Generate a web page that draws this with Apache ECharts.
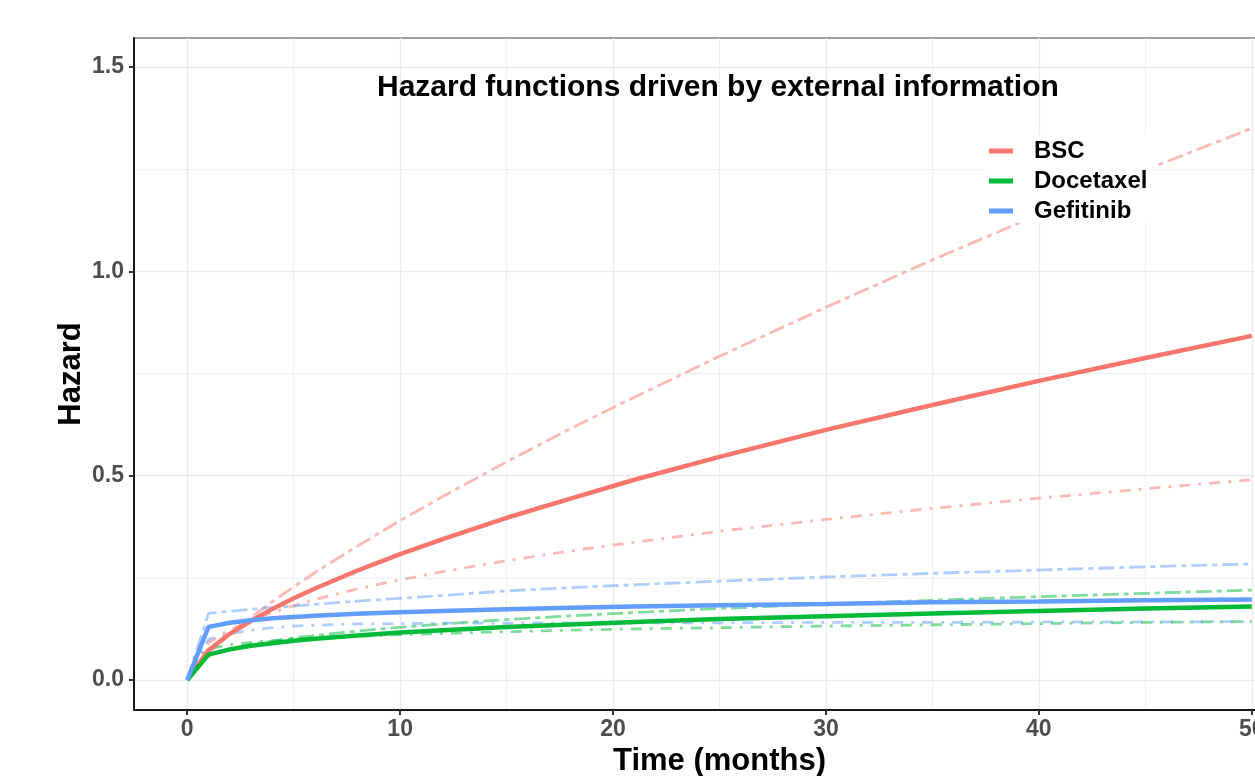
<!DOCTYPE html>
<html>
<head>
<meta charset="utf-8">
<title>Hazard functions driven by external information</title>
<script src="https://cdn.jsdelivr.net/npm/echarts@6/dist/echarts.min.js"></script>
<style>
  html, body { margin: 0; padding: 0; background: #fff; }
  #chart { width: 1255px; height: 776px; }
</style>
</head>
<body>
<div id="chart"></div>
<script>
// Time grid (months) at which the hazards are tabulated
const months = [0, 1, 2, 3, 4, 5, 6, 8, 10, 12, 15, 18, 21, 25, 30, 35, 40, 45, 50];

// BSC: central estimate and the two external-information scenarios
const bscMain  = [0, 0.073, 0.113, 0.145, 0.174, 0.200, 0.224, 0.268, 0.308, 0.345, 0.397, 0.444, 0.490, 0.546, 0.612, 0.673, 0.732, 0.788, 0.842];
const bscUpper = [0, 0.066, 0.112, 0.154, 0.192, 0.228, 0.263, 0.328, 0.390, 0.449, 0.534, 0.615, 0.692, 0.792, 0.912, 1.028, 1.139, 1.248, 1.350];
const bscLower = [0, 0.091, 0.123, 0.146, 0.165, 0.182, 0.197, 0.223, 0.245, 0.265, 0.292, 0.316, 0.337, 0.364, 0.393, 0.420, 0.445, 0.468, 0.490];

// Docetaxel
const docMain  = [0, 0.062, 0.075, 0.084, 0.090, 0.096, 0.101, 0.109, 0.116, 0.122, 0.130, 0.136, 0.142, 0.149, 0.156, 0.163, 0.169, 0.175, 0.180];
const docUpper = [0, 0.060, 0.076, 0.087, 0.095, 0.103, 0.109, 0.120, 0.129, 0.137, 0.148, 0.157, 0.165, 0.175, 0.186, 0.195, 0.204, 0.212, 0.220];
const docLower = [0, 0.077, 0.086, 0.092, 0.096, 0.100, 0.103, 0.107, 0.111, 0.114, 0.118, 0.122, 0.125, 0.128, 0.132, 0.135, 0.138, 0.141, 0.143];

// Gefitinib
const gefMain  = [0, 0.130, 0.140, 0.146, 0.151, 0.154, 0.157, 0.162, 0.166, 0.169, 0.173, 0.177, 0.180, 0.183, 0.186, 0.190, 0.192, 0.195, 0.197];
const gefUpper = [0, 0.163, 0.168, 0.173, 0.177, 0.181, 0.185, 0.193, 0.200, 0.207, 0.218, 0.226, 0.233, 0.242, 0.252, 0.261, 0.269, 0.277, 0.284];
const gefLower = [0, 0.100, 0.113, 0.122, 0.128, 0.132, 0.134, 0.137, 0.138, 0.139, 0.139, 0.140, 0.140, 0.140, 0.141, 0.141, 0.142, 0.142, 0.143];

const treatments = ['BSC', 'Docetaxel', 'Gefitinib'];

// Axis ticks and grid lines
const xTicks = [0, 10, 20, 30, 40, 50];
const xMinor = [5, 15, 25, 35, 45];
const yTicks = [0, 0.5, 1.0, 1.5];
const yMinor = [0.25, 0.75, 1.25];

const COLORS = { BSC: '#F8766D', Docetaxel: '#00BA38', Gefitinib: '#619CFF' };
const FONT = "'Liberation Sans', Arial, Helvetica, sans-serif";
const TWODASH = [16, 5, 5, 5];
const DOTDASH = [3, 8, 11, 8];

function pairs(vals) {
  return months.map((m, i) => [m, vals[i]]);
}

function lineSeries(name, vals, color, width, dash, opacity, z) {
  return {
    name: name,
    type: 'line',
    data: pairs(vals),
    showSymbol: false,
    symbol: 'none',
    smooth: false,
    silent: true,
    z: z,
    color: color,
    lineStyle: { color: color, width: width, type: dash || 'solid', opacity: opacity, cap: 'butt' },
    emphasis: { disabled: true }
  };
}

const scenario = {
  BSC: [bscMain, bscUpper, bscLower],
  Docetaxel: [docMain, docUpper, docLower],
  Gefitinib: [gefMain, gefUpper, gefLower]
};

const series = [];
treatments.forEach(t => {
  const [, up, lo] = scenario[t];
  series.push(lineSeries(t + ' upper', up, COLORS[t], 2.8, TWODASH, 0.5, 3));
  series.push(lineSeries(t + ' lower', lo, COLORS[t], 2.8, DOTDASH, 0.5, 3));
});
treatments.forEach(t => {
  series.push(lineSeries(t, scenario[t][0], COLORS[t], 4.5, null, 1, 5));
});

const X_MIN = -2.5, X_MAX = 52.5;
const Y_MIN = -0.0734, Y_MAX = 1.571;

function gridAxis(min, max, values, width) {
  return {
    type: 'value', min: min, max: max, gridIndex: 0,
    axisLine: { show: false },
    axisTick: { show: false, customValues: values },
    axisLabel: { show: false },
    splitLine: { show: true, lineStyle: { color: '#EBEBEB', width: width } }
  };
}

const option = {
  animation: false,
  backgroundColor: '#ffffff',
  title: {
    text: 'Hazard functions driven by external information',
    left: 377,
    top: 73,
    padding: 0,
    textStyle: { fontFamily: FONT, fontSize: 30, fontWeight: 'bold', color: '#000000' }
  },
  legend: {
    data: treatments,
    orient: 'vertical',
    left: 985,
    top: 135,
    padding: [4, 6, 0, 4],
    itemGap: 6,
    itemWidth: 24,
    itemHeight: 5,
    icon: 'rect',
    selectedMode: false,
    backgroundColor: '#ffffff',
    z: 10,
    textStyle: { fontFamily: FONT, fontSize: 24, fontWeight: 'bold', color: '#000000', lineHeight: 24, padding: [0, 0, 0, 16] }
  },
  grid: {
    left: 134, top: 38, width: 1171, height: 672,
    show: true, borderColor: '#808080', borderWidth: 1.5, backgroundColor: 'transparent',
    containLabel: false, outerBoundsMode: 'none'
  },
  xAxis: [
    {
      type: 'value', min: X_MIN, max: X_MAX, gridIndex: 0, position: 'bottom',
      axisLine: { show: true, onZero: false, lineStyle: { color: '#1a1a1a', width: 2 } },
      axisTick: { show: true, length: 5, customValues: xTicks, lineStyle: { color: '#333333', width: 2 } },
      axisLabel: {
        customValues: xTicks, margin: 8,
        fontFamily: FONT, fontSize: 23, fontWeight: 'bold', color: '#4D4D4D',
        formatter: v => String(v)
      },
      splitLine: { show: false },
      name: 'Time (months)', nameLocation: 'middle', nameGap: 36, nameMoveOverlap: false,
      nameTextStyle: { fontFamily: FONT, fontSize: 31, fontWeight: 'bold', color: '#000000' }
    },
    gridAxis(X_MIN, X_MAX, xTicks, 1.4),
    gridAxis(X_MIN, X_MAX, xMinor, 0.8)
  ],
  yAxis: [
    {
      type: 'value', min: Y_MIN, max: Y_MAX, gridIndex: 0, position: 'left',
      axisLine: { show: true, onZero: false, lineStyle: { color: '#1a1a1a', width: 2 } },
      axisTick: { show: true, length: 5, customValues: yTicks, lineStyle: { color: '#333333', width: 2 } },
      axisLabel: {
        customValues: yTicks, margin: 10,
        fontFamily: FONT, fontSize: 23, fontWeight: 'bold', color: '#4D4D4D',
        formatter: v => Number(v).toFixed(1)
      },
      splitLine: { show: false },
      name: 'Hazard', nameLocation: 'middle', nameGap: 47, nameRotate: 90, nameMoveOverlap: false,
      nameTextStyle: { fontFamily: FONT, fontSize: 31, fontWeight: 'bold', color: '#000000' }
    },
    gridAxis(Y_MIN, Y_MAX, yTicks, 1.4),
    gridAxis(Y_MIN, Y_MAX, yMinor, 0.8)
  ],
  series: series
};

const chart = echarts.init(document.getElementById('chart'), null, { renderer: 'canvas' });
chart.setOption(option);
</script>
</body>
</html>
